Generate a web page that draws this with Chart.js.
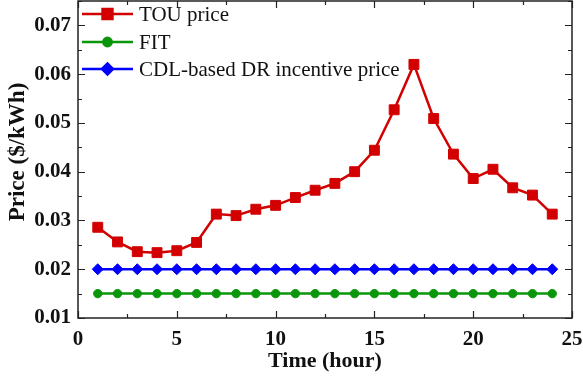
<!DOCTYPE html>
<html>
<head>
<meta charset="utf-8">
<script src="https://cdn.jsdelivr.net/npm/chart.js@4/dist/chart.umd.min.js"></script>
<style>
  html, body { margin: 0; padding: 0; background: #fff; }
  #wrap { width: 583px; height: 383px; }
</style>
</head>
<body>
<div id="wrap"><canvas id="c" width="583" height="383"></canvas></div>
<script>
// Hours of the day
const hours = [1, 2, 3, 4, 5, 6, 7, 8, 9, 10, 11, 12, 13, 14, 15, 16, 17, 18, 19, 20, 21, 22, 23, 24];

// Prices in $/kWh
const touPrice = [0.0286, 0.0256, 0.0236, 0.0234, 0.0238, 0.0255, 0.0313, 0.0310, 0.0323, 0.0331, 0.0347, 0.0362,
                  0.0376, 0.0400, 0.0444, 0.0527, 0.0620, 0.0509, 0.0436, 0.0386, 0.0405, 0.0367, 0.0352, 0.0313];
const fitPrice = [0.015, 0.015, 0.015, 0.015, 0.015, 0.015, 0.015, 0.015, 0.015, 0.015, 0.015, 0.015,
                  0.015, 0.015, 0.015, 0.015, 0.015, 0.015, 0.015, 0.015, 0.015, 0.015, 0.015, 0.015];
const cdlPrice = [0.020, 0.020, 0.020, 0.020, 0.020, 0.020, 0.020, 0.020, 0.020, 0.020, 0.020, 0.020,
                  0.020, 0.020, 0.020, 0.020, 0.020, 0.020, 0.020, 0.020, 0.020, 0.020, 0.020, 0.020];

const seriesLabels = ['TOU price', 'FIT', 'CDL-based DR incentive price'];

// Axis tick labels and titles
const xTicks = [0, 5, 10, 15, 20, 25];
const yTicks = [0.01, 0.02, 0.03, 0.04, 0.05, 0.06, 0.07];
const xTitle = 'Time (hour)';
const yTitle = 'Price ($/kWh)';

const SERIF = '"Liberation Serif", "Times New Roman", serif';
const RED = '#d20000', GREEN = '#0a960a', BLUE = '#0000ff';

const toPoints = (ys) => hours.map((h, i) => ({ x: h, y: ys[i] }));

// Frame with inward ticks on all four sides
const framePlugin = {
  id: 'frame',
  afterDatasetsDraw(chart) {
    const { ctx, chartArea: a, scales: { x, y } } = chart;
    ctx.save();
    ctx.strokeStyle = '#222';
    ctx.lineWidth = 1.5;
    ctx.strokeRect(a.left, a.top, a.right - a.left, a.bottom - a.top);
    ctx.lineWidth = 1.2;
    ctx.beginPath();
    for (let v = 0; v <= 25.0001; v += 2.5) {
      const px = Math.round(x.getPixelForValue(v)) + 0.5;
      const len = Math.abs(v % 5) < 1e-6 ? 7 : 4;
      ctx.moveTo(px, a.bottom); ctx.lineTo(px, a.bottom - len);
      ctx.moveTo(px, a.top); ctx.lineTo(px, a.top + len);
    }
    for (let k = 2; k <= 15; k++) {
      const v = k * 0.005;
      const py = Math.round(y.getPixelForValue(v)) + 0.5;
      const len = k % 2 === 0 ? 7 : 4;
      ctx.moveTo(a.left, py); ctx.lineTo(a.left + len, py);
      ctx.moveTo(a.right, py); ctx.lineTo(a.right - len, py);
    }
    ctx.stroke();

    // Vertical axis title
    ctx.translate(18, 152);
    ctx.rotate(-Math.PI / 2);
    ctx.fillStyle = '#111';
    ctx.font = 'bold 23px ' + SERIF;
    ctx.textAlign = 'center';
    ctx.textBaseline = 'middle';
    ctx.fillText(yTitle, 0, 0);
    ctx.restore();
  }
};

// Legend in the top-left corner of the plot
const legendPlugin = {
  id: 'cornerLegend',
  afterDatasetsDraw(chart) {
    const { ctx } = chart;
    const x0 = 82, x1 = 133, tx = 139;
    const rows = [14, 42, 69];
    ctx.save();
    chart.data.datasets.forEach((ds, i) => {
      const yy = rows[i];
      ctx.strokeStyle = ds.borderColor;
      ctx.lineWidth = ds.borderWidth;
      ctx.beginPath(); ctx.moveTo(x0, yy); ctx.lineTo(x1, yy); ctx.stroke();
      Chart.helpers.drawPoint(ctx, {
        pointStyle: ds.pointStyle, radius: ds.pointRadius, borderWidth: 1, rotation: 0
      }, (x0 + x1) / 2, yy);
      ctx.fillStyle = ds.pointBackgroundColor;
      ctx.strokeStyle = ds.pointBorderColor;
      ctx.lineWidth = 1;
      ctx.fill(); ctx.stroke();
      ctx.fillStyle = '#111';
      ctx.font = '21px ' + SERIF;
      ctx.textAlign = 'left';
      ctx.textBaseline = 'middle';
      ctx.fillText(ds.label, tx, yy + 1);
    });
    ctx.restore();
  }
};

const mk = (label, ys, color, style, r) => ({
  label, data: toPoints(ys),
  borderColor: color, backgroundColor: color,
  pointBackgroundColor: color, pointBorderColor: color,
  borderWidth: 2.5, pointStyle: style, pointRadius: r, pointBorderWidth: 1,
  tension: 0, clip: false
});

// Keep the plot box fixed: no extra room for overhanging tick labels
const noOverhang = (s) => { s.paddingLeft = 0; s.paddingRight = 0; s.paddingTop = 0; s.paddingBottom = 0; };

new Chart(document.getElementById('c'), {
  type: 'line',
  data: {
    datasets: [
      mk(seriesLabels[0], touPrice, RED, 'rect', 7),
      mk(seriesLabels[1], fitPrice, GREEN, 'circle', 4.2),
      mk(seriesLabels[2], cdlPrice, BLUE, 'rectRot', 5.5)
    ]
  },
  options: {
    responsive: false,
    animation: false,
    devicePixelRatio: 1,
    layout: { autoPadding: false, padding: { top: 1, right: 11, left: 0, bottom: 0 } },
    plugins: { legend: { display: false }, tooltip: { enabled: false } },
    scales: {
      x: {
        type: 'linear', min: 0, max: 25,
        grid: { display: false, drawTicks: false },
        border: { display: false },
        afterFit: (s) => { s.height = 65; noOverhang(s); },
        afterBuildTicks: (s) => { s.ticks = xTicks.map(v => ({ value: v })); },
        ticks: {
          padding: 9, color: '#111',
          font: { family: SERIF, size: 21, weight: 'bold' },
          callback: (v) => String(v)
        },
        title: {
          display: true, text: xTitle, color: '#111',
          font: { family: SERIF, size: 22, weight: 'bold', lineHeight: 1.2 },
          padding: { top: 0, bottom: 8 }
        }
      },
      y: {
        type: 'linear', min: 0.01, max: 0.075,
        grid: { display: false, drawTicks: false },
        border: { display: false },
        afterFit: (s) => { s.width = 78; noOverhang(s); },
        afterBuildTicks: (s) => { s.ticks = yTicks.map(v => ({ value: v })); },
        ticks: {
          padding: 7, color: '#111',
          font: { family: SERIF, size: 21, weight: 'bold' },
          callback: (v) => v.toFixed(2)
        },
        title: { display: false }
      }
    }
  },
  plugins: [framePlugin, legendPlugin]
});
</script>
</body>
</html>
